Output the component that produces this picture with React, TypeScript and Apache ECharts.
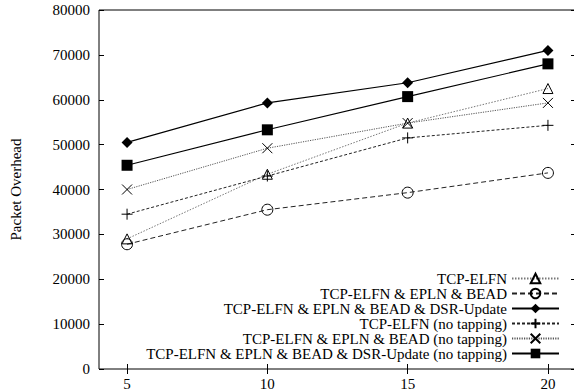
import React, { useEffect, useRef } from "react";
import * as echarts from "echarts";

const xValues = [5, 10, 15, 20];
const seriesNames = [
  "TCP-ELFN",
  "TCP-ELFN & EPLN & BEAD",
  "TCP-ELFN & EPLN & BEAD & DSR-Update",
  "TCP-ELFN (no tapping)",
  "TCP-ELFN & EPLN & BEAD (no tapping)",
  "TCP-ELFN & EPLN & BEAD & DSR-Update (no tapping)",
];
const elfn = [29000, 43400, 54800, 62500];
const elfnEplnBead = [27800, 35500, 39300, 43700];
const elfnEplnBeadDsr = [50500, 59300, 63800, 71000];
const elfnNoTap = [34500, 43000, 51500, 54300];
const elfnEplnBeadNoTap = [40000, 49200, 54800, 59300];
const elfnEplnBeadDsrNoTap = [45400, 53300, 60700, 68000];
const yTicks = [0, 10000, 20000, 30000, 40000, 50000, 60000, 70000, 80000];

const FONT = "Liberation Serif";

export default function App() {
  const ref = useRef<HTMLDivElement>(null);
  useEffect(() => {
    if (!ref.current) return;
    const chart = echarts.init(ref.current, undefined, { renderer: "svg" });
    const pair = (ys: number[]) => xValues.map((x, i) => [x, ys[i]]);
    const hollow = { color: "transparent", borderColor: "#000", borderWidth: 1 };
    const series: any[] = [
      {
        name: seriesNames[0],
        data: pair(elfn),
        symbol: "triangle",
        symbolSize: 10,
        itemStyle: hollow,
        lineStyle: { color: "#777", width: 1, type: [1.5, 1.5] },
      },
      {
        name: seriesNames[1],
        data: pair(elfnEplnBead),
        symbol: "circle",
        symbolSize: 11,
        itemStyle: hollow,
        lineStyle: { color: "#222", width: 1, type: [5, 3] },
      },
      {
        name: seriesNames[2],
        data: pair(elfnEplnBeadDsr),
        symbol: "diamond",
        symbolSize: 11,
        itemStyle: { color: "#000" },
        lineStyle: { color: "#000", width: 1.1, type: "solid" },
      },
      {
        name: seriesNames[3],
        data: pair(elfnNoTap),
        symbol: "path://M5,0L5,10M0,5L10,5",
        symbolSize: 11,
        itemStyle: hollow,
        lineStyle: { color: "#222", width: 1, type: [3, 2] },
      },
      {
        name: seriesNames[4],
        data: pair(elfnEplnBeadNoTap),
        symbol: "path://M0,0L10,10M10,0L0,10",
        symbolSize: 10,
        itemStyle: hollow,
        lineStyle: { color: "#555", width: 1, type: [1.2, 1.2] },
      },
      {
        name: seriesNames[5],
        data: pair(elfnEplnBeadDsrNoTap),
        symbol: "rect",
        symbolSize: 11,
        itemStyle: { color: "#000" },
        lineStyle: { color: "#000", width: 1.1, type: "solid" },
      },
    ].map((s) => ({ type: "line", showSymbol: true, ...s }));

    const axisLine = { show: false };
    const plain = (v: number) => String(v);
    chart.setOption({
      animation: false,
      textStyle: { fontFamily: FONT },
      grid: {
        left: 95,
        right: 2,
        top: 10,
        bottom: 22,
        show: true,
        borderColor: "#000",
        borderWidth: 1,
        backgroundColor: "transparent",
      },
      legend: {
        orient: "vertical",
        align: "right",
        right: 18,
        top: 271,
        padding: 0,
        itemWidth: 47,
        itemHeight: 12,
        itemGap: 0,
        selectedMode: false,
        data: seriesNames,
        textStyle: { fontFamily: FONT, fontSize: 15, color: "#000" },
      },
      xAxis: [
        {
          type: "value",
          min: 4,
          max: 21,
          axisLine,
          splitLine: { show: false },
          axisTick: {
            show: true,
            inside: true,
            length: 5,
            customValues: xValues,
            lineStyle: { color: "#000" },
          },
          axisLabel: {
            customValues: xValues,
            formatter: plain,
            fontFamily: FONT,
            fontSize: 15,
            color: "#000",
            margin: 7,
          },
        },
        {
          type: "value",
          position: "top",
          min: 4,
          max: 21,
          axisLine,
          splitLine: { show: false },
          axisTick: {
            show: true,
            inside: true,
            length: 5,
            customValues: xValues,
            lineStyle: { color: "#000" },
          },
          axisLabel: { show: false },
        },
      ],
      yAxis: [
        {
          type: "value",
          min: 0,
          max: 80000,
          interval: 10000,
          name: "Packet Overhead",
          nameLocation: "middle",
          nameGap: 76,
          nameTextStyle: { fontFamily: FONT, fontSize: 15, color: "#000" },
          axisLine,
          splitLine: { show: false },
          axisTick: {
            show: true,
            inside: true,
            length: 5,
            customValues: yTicks,
            lineStyle: { color: "#000" },
          },
          axisLabel: {
            customValues: yTicks,
            formatter: plain,
            fontFamily: FONT,
            fontSize: 15,
            color: "#000",
            margin: 9,
          },
        },
        {
          type: "value",
          position: "right",
          min: 0,
          max: 80000,
          interval: 10000,
          axisLine,
          splitLine: { show: false },
          axisTick: {
            show: true,
            inside: true,
            length: 5,
            lineStyle: { color: "#000" },
          },
          axisLabel: { show: false },
        },
      ],
      series,
    });
    return () => chart.dispose();
  }, []);
  return (
    <div
      style={{
        position: "fixed",
        left: 0,
        top: 0,
        width: 574,
        height: 391,
        overflow: "hidden",
        background: "#fff",
      }}
    >
      <div ref={ref} style={{ width: 578, height: 391 }} />
    </div>
  );
}
